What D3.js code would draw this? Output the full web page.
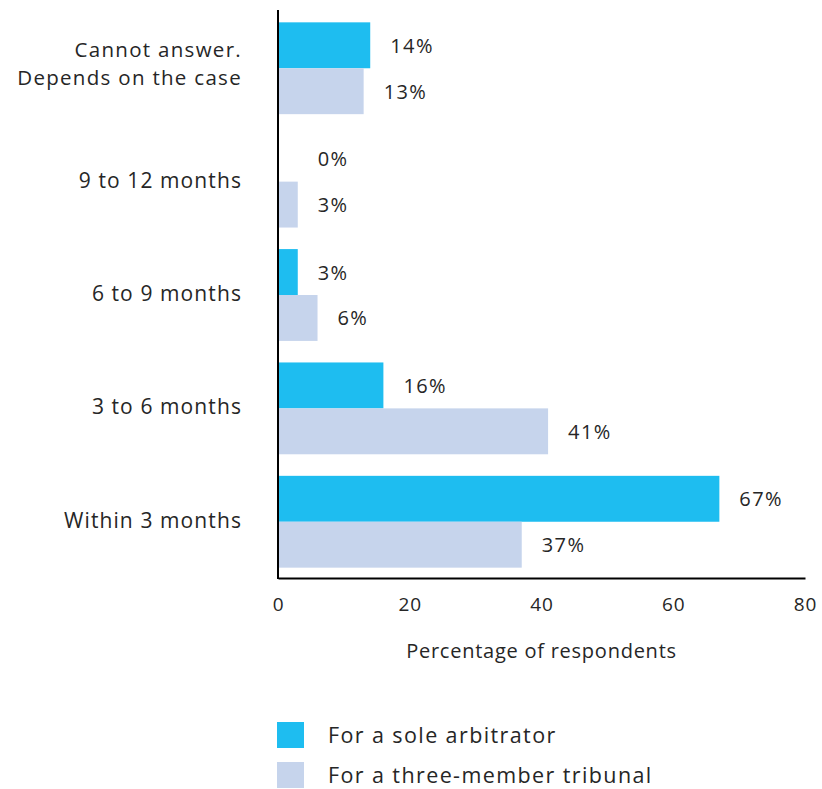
<!DOCTYPE html>
<html>
<head>
<meta charset="utf-8">
<script src="https://cdn.jsdelivr.net/npm/d3@7"></script>
<style>
  body { margin: 0; background: #fff; }
  text { font-family: "Open Sans", sans-serif; fill: #262626; }
</style>
</head>
<body>
<svg id="chart" width="822" height="789"></svg>
<script>
// data
const categories = ["Cannot answer.\nDepends on the case", "9 to 12 months", "6 to 9 months", "3 to 6 months", "Within 3 months"]
const seriesNames = ["For a sole arbitrator", "For a three-member tribunal"]
const soleArbitrator = [14, 0, 3, 16, 67]
const threeMember = [13, 3, 6, 41, 37]
const xTicks = [0, 20, 40, 60, 80]
const colors = ["#1ebdf0", "#c6d4ec"]

let svg = d3.select("#chart")
let mLeft = 278, mRight = 805, mTop = 11, mBottom = 578

let xScale = d3.scaleLinear().domain([0, 80]).range([mLeft, mRight])
let yScale = d3.scaleBand().domain(categories).range([mTop, mBottom + 1]).paddingInner(0.19).paddingOuter(0.1)
let sub = d3.scaleBand().domain([0, 1]).range([0, yScale.bandwidth()])

let rows = categories.map((c, i) => ({cat: c, vals: [soleArbitrator[i], threeMember[i]]}))

let groups = svg.selectAll(".grp").data(rows).enter().append("g")
    .attr("transform", d => `translate(0,${yScale(d.cat)})`)

groups.selectAll("rect").data(d => d.vals).enter().append("rect")
    .attr("x", xScale(0))
    .attr("y", (d, i) => sub(i))
    .attr("width", d => xScale(d) - xScale(0))
    .attr("height", sub.bandwidth())
    .style("fill", (d, i) => colors[i])

// value labels (0% sits where a tiny bar would end)
groups.selectAll(".val").data(d => d.vals).enter().append("text")
    .attr("x", d => xScale(Math.max(d, 3)) + 20)
    .attr("y", (d, i) => sub(i) + sub.bandwidth() / 2)
    .attr("dominant-baseline", "central")
    .style("font-size", "20px")
    .style("letter-spacing", "1.4px")
    .text(d => d + "%")

// category labels, one text per line
groups.each(function(d) {
    let lines = d.cat.split("\n")
    let g = d3.select(this)
    lines.forEach((l, j) => {
        g.append("text")
            .attr("text-anchor", "end")
            .attr("x", 242)
            .attr("y", yScale.bandwidth() / 2 - 2 - (lines.length - 1) * 3 + (j - (lines.length - 1) / 2) * 28)
            .attr("dominant-baseline", "central")
            .style("font-size", lines.length > 1 ? "20.5px" : "21px")
            .style("letter-spacing", lines.length > 1 ? "1.3px" : "1.1px")
            .text(l)
    })
})

// axes
let xAxis = d3.axisBottom(xScale).tickValues(xTicks).tickSize(0).tickPadding(20)
let gx = svg.append("g").attr("transform", `translate(0,${mBottom})`).call(xAxis)
gx.select(".domain").attr("stroke", "#000").attr("stroke-width", 2)
gx.selectAll("text").style("font-size", "19px").style("font-family", "'Open Sans', sans-serif")
    .style("letter-spacing", "0.8px").attr("fill", "#262626")

svg.append("line")
    .attr("x1", mLeft).attr("x2", mLeft).attr("y1", mTop - 1).attr("y2", mBottom + 1)
    .attr("stroke", "#000").attr("stroke-width", 2)

svg.append("text")
    .attr("x", (mLeft + mRight) / 2).attr("y", 650)
    .attr("text-anchor", "middle").attr("dominant-baseline", "central")
    .style("font-size", "20px")
    .style("letter-spacing", "0.75px")
    .text("Percentage of respondents")

// legend
let legend = svg.selectAll(".leg").data(seriesNames).enter().append("g")
    .attr("transform", (d, i) => `translate(277,${722 + i * 40})`)
legend.append("rect").attr("width", 27).attr("height", 26).style("fill", (d, i) => colors[i])
legend.append("text").attr("x", 51).attr("y", 12)
    .attr("dominant-baseline", "central")
    .style("font-size", "21.5px")
    .style("letter-spacing", "1.4px")
    .text(d => d)
</script>
</body>
</html>
